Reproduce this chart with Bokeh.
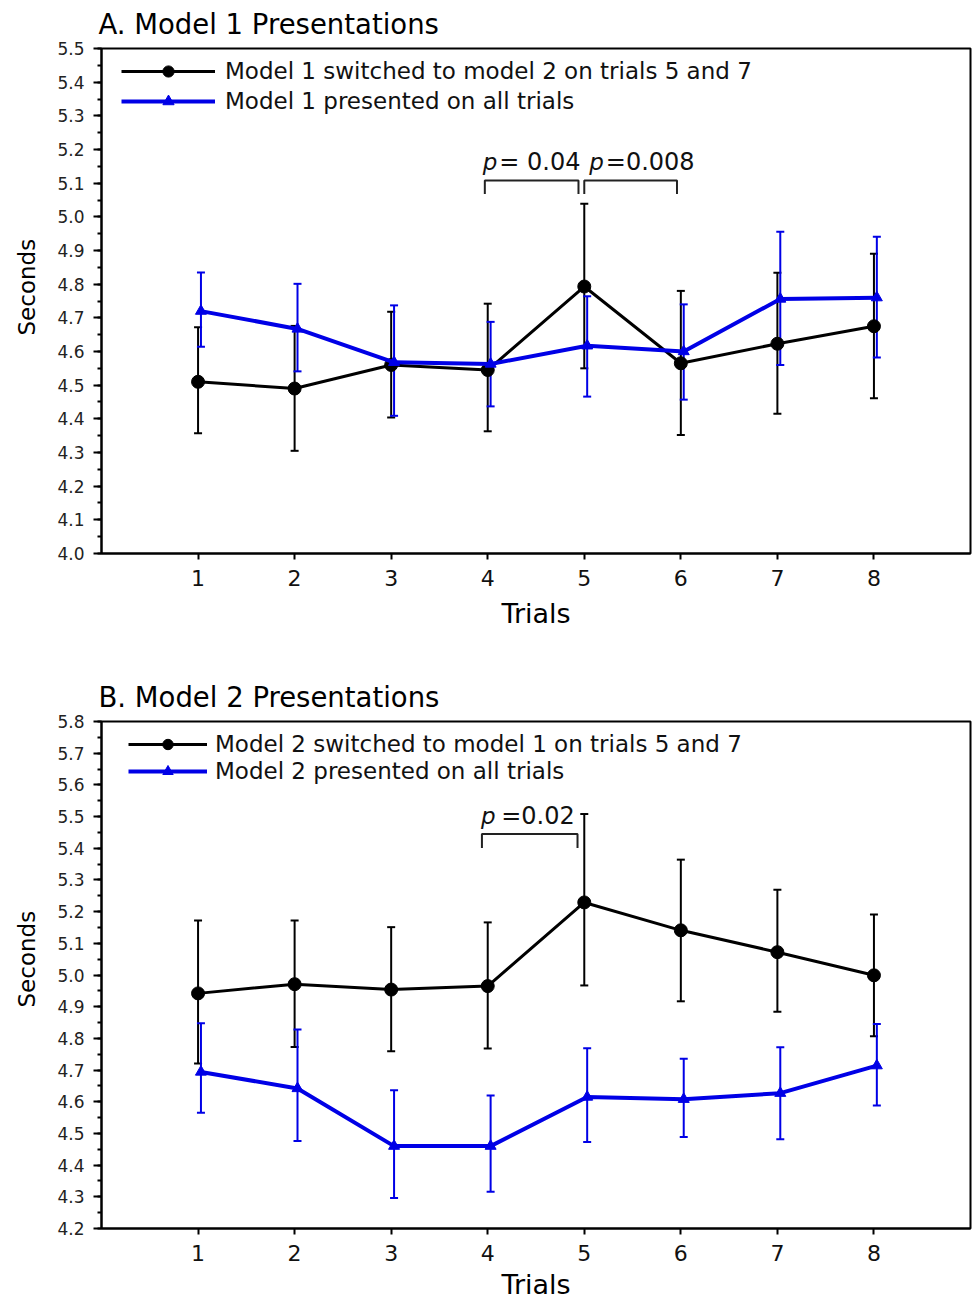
from bokeh.plotting import figure
from bokeh.models import (Range1d, SingleIntervalTicker, FixedTicker, PrintfTickFormatter,
                          Whisker, TeeHead, ColumnDataSource, Legend, LegendItem, Label, Title)
from bokeh.layouts import column
from bokeh.embed import file_html
from bokeh.resources import INLINE

# ---------------- data ----------------
trials = [1, 2, 3, 4, 5, 6, 7, 8]

# Panel A: Model 1 presentations
a_switch_mean = [4.51, 4.49, 4.56, 4.545, 4.793, 4.565, 4.623, 4.675]
a_switch_hi   = [4.672, 4.676, 4.718, 4.742, 5.039, 4.780, 4.834, 4.890]
a_switch_lo   = [4.357, 4.305, 4.404, 4.363, 4.550, 4.352, 4.415, 4.461]
a_all_mean    = [4.72, 4.667, 4.568, 4.563, 4.617, 4.600, 4.756, 4.760]
a_all_hi      = [4.835, 4.801, 4.737, 4.688, 4.764, 4.740, 4.956, 4.941]
a_all_lo      = [4.614, 4.541, 4.409, 4.437, 4.466, 4.457, 4.560, 4.582]

# Panel B: Model 2 presentations
b_switch_mean = [4.942, 4.971, 4.954, 4.965, 5.229, 5.141, 5.072, 4.999]
b_switch_hi   = [5.172, 5.172, 5.151, 5.166, 5.508, 5.364, 5.269, 5.191]
b_switch_lo   = [4.721, 4.773, 4.759, 4.768, 4.967, 4.917, 4.884, 4.807]
b_all_mean    = [4.694, 4.642, 4.460, 4.460, 4.615, 4.608, 4.627, 4.714]
b_all_hi      = [4.848, 4.828, 4.636, 4.620, 4.769, 4.736, 4.772, 4.845]
b_all_lo      = [4.565, 4.476, 4.296, 4.316, 4.473, 4.489, 4.482, 4.588]

a_labels = ["Model 1 switched to model 2 on trials 5 and 7", "Model 1 presented on all trials"]
b_labels = ["Model 2 switched to model 1 on trials 5 and 7", "Model 2 presented on all trials"]

# significance brackets: (from, to, p text)
a_brackets = [(3.97, 4.94, "= 0.04"), (5.0, 5.96, "=0.008")]
b_brackets = [(3.94, 4.93, "=0.02")]

BLACK = "#000000"
BLUE = "#0000e6"
FONT = "DejaVu Sans"
BLUE_SHIFT = 0.03
EPS = 1e-6


def make_panel(title, ylo, yhi, sw_m, sw_hi, sw_lo, al_m, al_hi, al_lo, labels,
               brackets, br_top, br_leg, height, top, bottom, leg_loc, glyph_w,
               glyph_h, spacing, standoff, p_dx, rest_dx, xlab_standoff, title_standoff,
               ylab_offset):
    p = figure(width=972, height=height, x_range=Range1d(0, 9),
               y_range=Range1d(ylo - EPS, yhi + EPS),
               output_backend="svg", toolbar_location=None,
               min_border_left=101, min_border_right=2, min_border_top=top,
               min_border_bottom=bottom)
    p.grid.visible = False
    p.outline_line_color = "black"
    p.outline_line_width = 2
    p.background_fill_color = "white"
    p.border_fill_color = "white"

    p.add_layout(Title(text=title, align="left", offset=-3, vertical_align="top",
                       standoff=title_standoff, text_font=FONT, text_font_size="27.5px",
                       text_font_style="normal", text_color="#000000"), "above")

    yax = p.yaxis[0]
    yax.ticker = SingleIntervalTicker(interval=0.1, num_minor_ticks=2)
    yax.formatter = PrintfTickFormatter(format="%.1f")
    yax.major_tick_out = 8
    yax.major_tick_in = 0
    yax.minor_tick_out = 4
    yax.minor_tick_in = 0
    yax.axis_line_width = 2
    yax.major_tick_line_width = 2
    yax.minor_tick_line_width = 2
    yax.major_label_standoff = 9
    yax.major_label_text_font = FONT
    yax.major_label_text_font_size = "17px"
    yax.major_label_text_color = "#222222"

    p.add_layout(Title(text="Seconds", align="left", offset=ylab_offset, vertical_align="top",
                       standoff=26, text_font=FONT, text_font_size="23px",
                       text_font_style="normal", text_color="#000000"), "left")

    xax = p.xaxis[0]
    xax.ticker = FixedTicker(ticks=trials)
    xax.major_tick_out = 6
    xax.major_tick_in = 0
    xax.minor_tick_out = 0
    xax.axis_line_width = 2
    xax.major_tick_line_width = 2
    xax.major_label_standoff = 10
    xax.major_label_text_font = FONT
    xax.major_label_text_font_size = "22px"
    xax.major_label_text_color = "#111111"
    xax.axis_label = "Trials"
    xax.axis_label_text_font = FONT
    xax.axis_label_text_font_size = "27px"
    xax.axis_label_text_font_style = "normal"
    xax.axis_label_text_color = "#000000"
    xax.axis_label_standoff = xlab_standoff

    blue_x = [t + BLUE_SHIFT for t in trials]
    s1 = ColumnDataSource(dict(x=trials, m=sw_m, hi=sw_hi, lo=sw_lo))
    s2 = ColumnDataSource(dict(x=blue_x, m=al_m, hi=al_hi, lo=al_lo))

    w1 = Whisker(base="x", upper="hi", lower="lo", source=s1, line_color=BLACK, line_width=2,
                 upper_head=TeeHead(size=8, line_color=BLACK, line_width=2),
                 lower_head=TeeHead(size=8, line_color=BLACK, line_width=2))
    p.add_layout(w1)
    l1 = p.line("x", "m", source=s1, line_color=BLACK, line_width=3)
    c1 = p.scatter("x", "m", source=s1, marker="circle", size=13, fill_color=BLACK,
                   line_color=BLACK)

    w2 = Whisker(base="x", upper="hi", lower="lo", source=s2, line_color=BLUE, line_width=2,
                 upper_head=TeeHead(size=8, line_color=BLUE, line_width=2),
                 lower_head=TeeHead(size=8, line_color=BLUE, line_width=2))
    p.add_layout(w2)
    l2 = p.line("x", "m", source=s2, line_color=BLUE, line_width=4)
    c2 = p.scatter("x", "m", source=s2, marker="triangle", size=11, fill_color=BLUE,
                   line_color=BLUE)

    # brackets
    xs = [[b[0], b[0], b[1], b[1]] for b in brackets]
    ys = [[br_leg, br_top, br_top, br_leg] for _ in brackets]
    p.multi_line(xs, ys, line_color="#222222", line_width=2)
    for i, b in enumerate(brackets):
        p.add_layout(Label(x=b[0], y=br_top, x_offset=p_dx[i], y_offset=18, text="p",
                           text_font=FONT, text_font_size="23px", text_font_style="italic",
                           text_baseline="alphabetic", text_color="#111111"))
        p.add_layout(Label(x=b[0], y=br_top, x_offset=rest_dx[i], y_offset=18, text=b[2],
                           text_font=FONT, text_font_size="24px",
                           text_baseline="alphabetic", text_color="#111111"))

    legend = Legend(items=[LegendItem(label=labels[0], renderers=[l1, c1]),
                           LegendItem(label=labels[1], renderers=[l2, c2])],
                    location=leg_loc, glyph_width=glyph_w, glyph_height=glyph_h,
                    label_height=glyph_h, spacing=spacing, label_standoff=standoff,
                    padding=0, margin=0, border_line_color=None, background_fill_alpha=0,
                    label_text_font=FONT, label_text_font_size="23px",
                    label_text_color="#111111")
    p.add_layout(legend)
    return p


pA = make_panel("A. Model 1 Presentations", 4.0, 5.5, a_switch_mean, a_switch_hi, a_switch_lo,
                a_all_mean, a_all_hi, a_all_lo, a_labels, a_brackets, 5.108, 5.068,
                650, 48, 97, (20, 438), 94, 28, 2, 10, [-2, 5], [14.5, 21.5], 9, 14, 218)
pB = make_panel("B. Model 2 Presentations", 4.2, 5.8, b_switch_mean, b_switch_hi, b_switch_lo,
                b_all_mean, b_all_hi, b_all_lo, b_labels, b_brackets, 5.445, 5.401,
                656, 71, 78, (27, 444), 79, 26, 1, 8, [-1], [19.3], 5, 14, 221)

layout = column(pA, pB)
open("out.html", "w").write(file_html(layout, INLINE))
